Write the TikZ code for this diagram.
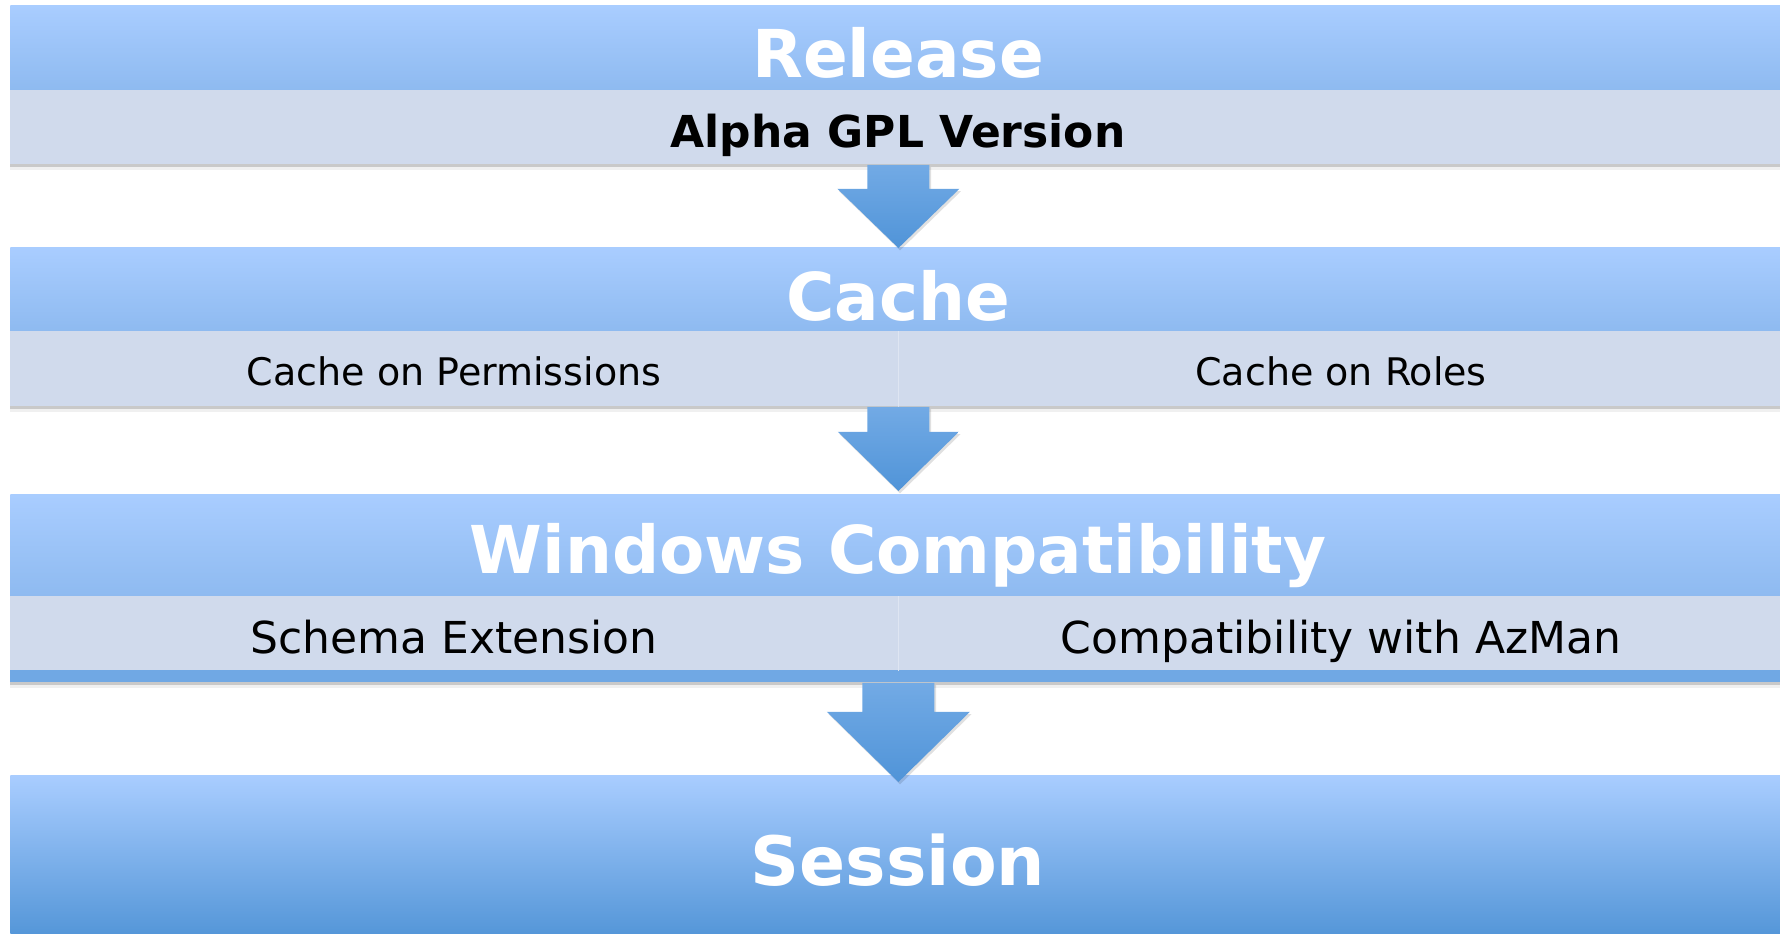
\documentclass[tikz,border=0pt]{standalone}
\usepackage{fontspec}
\setmainfont{DejaVu Sans}
\usetikzlibrary{calc,shadows}

\definecolor{headtop}{RGB}{169,205,255}
\definecolor{headbot}{RGB}{142,186,240}
\definecolor{subfill}{RGB}{208,218,236}
\definecolor{sessbot}{RGB}{84,150,216}
\definecolor{arrowtop}{RGB}{114,170,229}
\definecolor{arrowbot}{RGB}{80,148,216}
\definecolor{stripblue}{RGB}{112,168,228}
\definecolor{divline}{RGB}{222,229,242}

\tikzset{
	band/.style={rectangle, anchor=north west, inner sep=0pt, minimum width=888pt, draw=none},
	headband/.style={band, top color=headtop, bottom color=headbot},
	subband/.style={band, fill=subfill},
	softshadow/.style={general shadow={shadow yshift=-1.2pt, fill=black, opacity=0.16},
		general shadow={shadow yshift=-2.6pt, fill=black, opacity=0.06}},
	arrowshadow/.style={general shadow={shadow xshift=0.8pt, shadow yshift=-1.2pt, fill=black, opacity=0.12}},
	headtxt/.style={anchor=base, inner sep=0pt, text=white, font=\fontsize{33}{40}\selectfont\bfseries},
	subtxt/.style={anchor=base, inner sep=0pt, text=black, font=\fontsize{19}{23}\selectfont},
	bigtxt/.style={anchor=base, inner sep=0pt, text=black, font=\fontsize{22}{26}\selectfont},
	blockarrow/.style={top color=arrowtop, bottom color=arrowbot, draw=none, arrowshadow},
	divider/.style={draw=divline, line width=0.8pt}
}

\begin{document}
\begin{tikzpicture}[x=0.5pt, y=-0.5pt]
			%%%%% START %%%%%
			
			\useasboundingbox (0, 0) rectangle (1780, 933);
			\clip (0, 0) rectangle (1780, 933);
			\fill[white] (0, 0) rectangle (1780, 933);
			
			% Release
			\node[headband, minimum height=42.5pt] (relhead) at (10, 5) {};
			\node[subband, softshadow, minimum height=37pt] (relsub) at (10, 90) {};
			\node[headtxt] (reltxt) at (898, 77) {Release};
			\node[bigtxt, font=\fontsize{22}{26}\selectfont\bfseries] (alphatxt) at (898, 147) {Alpha GPL Version};
			
			% Cache
			\node[headband, minimum height=42pt] (cachehead) at (10, 247) {};
			\node[subband, softshadow, minimum height=37.5pt] (cachesub) at (10, 331) {};
			\draw[divider] (cachesub.north) -- (cachesub.south);
			\node[headtxt] (cachetxt) at (898, 320) {Cache};
			\node[subtxt] (permtxt) at (454, 385) {Cache on Permissions};
			\node[subtxt] (roletxt) at (1341, 385) {Cache on Roles};
			
			% Windows Compatibility
			\node[headband, minimum height=51pt] (winhead) at (10, 494) {};
			\node[band, fill=stripblue, softshadow, minimum height=6pt] (winstrip) at (10, 670) {};
			\node[subband, minimum height=37pt] (winsub) at (10, 596) {};
			\draw[divider] (winsub.north) -- (winsub.south);
			\node[headtxt] (wintxt) at (898, 573) {Windows Compatibility};
			\node[bigtxt] (schematxt) at (454, 653) {Schema Extension};
			\node[bigtxt] (azmantxt) at (1341, 653) {Compatibility with AzMan};
			
			% Session
			\node[band, top color=headtop, bottom color=sessbot, minimum height=80pt] (sesshead) at (10, 775) {};
			\node[headtxt, font=\fontsize{34}{41}\selectfont\bfseries] (sesstxt) at (898, 885) {Session};
			
			% arrows
			\path[blockarrow] ($(relsub.south)+(-31, 0)$) -- ++(0, 24) -- ++(-30, 0)
				-- ($(cachehead.north)+(0, 1)$) -- ($(relsub.south)+(61, 24)$) -- ++(-30, 0) -- ++(0, -24) -- cycle;
			\path[blockarrow] ($(cachesub.south)+(-31, 0)$) -- ++(0, 25) -- ++(-29.5, 0)
				-- ($(winhead.north)+(0, -3)$) -- ($(cachesub.south)+(60.5, 25)$) -- ++(-29.5, 0) -- ++(0, -25) -- cycle;
			\path[blockarrow] ($(winstrip.south)+(-36, 0)$) -- ++(0, 29) -- ++(-35.5, 0)
				-- ($(sesshead.north)+(0, 7)$) -- ($(winstrip.south)+(71.5, 29)$) -- ++(-35.5, 0) -- ++(0, -29) -- cycle;
			
			%%%%% END %%%%%
\end{tikzpicture}
\end{document}
